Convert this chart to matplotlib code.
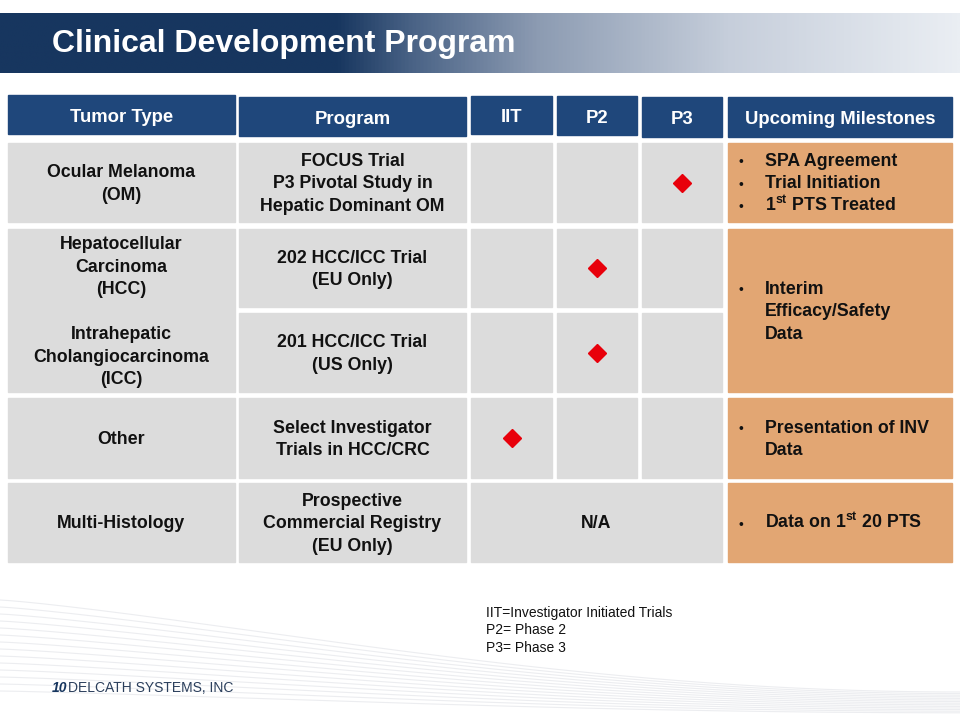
import numpy as np
import matplotlib
matplotlib.use("Agg")
import matplotlib.pyplot as plt
from matplotlib.patches import Rectangle
from matplotlib.colors import LinearSegmentedColormap

plt.rcParams["font.family"] = ["Liberation Sans", "DejaVu Sans"]
plt.rcParams["mathtext.fontset"] = "custom"
plt.rcParams["mathtext.rm"] = "Liberation Sans"
plt.rcParams["mathtext.bf"] = "Liberation Sans:bold"

# ── slide content ──
title = "Clinical Development Program"
headers = ["Tumor Type", "Program", "IIT", "P2", "P3", "Upcoming Milestones"]
phases = ["IIT", "P2", "P3"]

tumor_types = ["Ocular Melanoma\n(OM)",
               "Hepatocellular\nCarcinoma\n(HCC)\n\nIntrahepatic\nCholangiocarcinoma\n(ICC)",
               "Other",
               "Multi-Histology"]
tumor_rows = [(0, 0), (1, 2), (3, 3), (4, 4)]   # first/last program row covered

programs = ["FOCUS Trial\nP3 Pivotal Study in\nHepatic Dominant OM",
            "202 HCC/ICC Trial\n(EU Only)",
            "201 HCC/ICC Trial\n(US Only)",
            "Select Investigator\nTrials in HCC/CRC",
            "Prospective\nCommercial Registry\n(EU Only)"]
program_phase = ["P3", "P2", "P2", "IIT", None]

milestones = [["SPA Agreement", "Trial Initiation", r"1$^{\mathbf{st}}$ PTS Treated"],
              ["Interim\nEfficacy/Safety\nData"],
              ["Presentation of INV\nData"],
              [r"Data on 1$^{\mathbf{st}}$ 20 PTS"]]
milestone_rows = [(0, 0), (1, 2), (3, 3), (4, 4)]

footnote = ["IIT=Investigator Initiated Trials", "P2= Phase 2", "P3= Phase 3"]

NAVY = "#17365F"
HEAD = "#1F477B"
GRAY = "#DCDCDC"
ORANGE = "#E2A673"
INK = "#111111"
FS = 12.8
STEP = 22.5

# layout in pixels
col_x = [(8, 235), (239, 466), (471, 552), (557, 637), (642, 722), (728, 952)]
head_y = [(95, 134), (97, 136), (96, 134), (96, 135), (97, 137), (97, 137)]
row_y = [(143, 222), (229, 307), (313, 392), (398, 478), (483, 562)]

fig = plt.figure(figsize=(9.6, 7.2), dpi=100)
ax = fig.add_axes([0, 0, 1, 1])
ax.set_xlim(0, 960)
ax.set_ylim(720, 0)
ax.axis("off")


def put_lines(x, yc, text, ha="center", bullet_x=None, **kw):
    lines = text.split("\n")
    ytop = yc - (len(lines) - 1) * STEP / 2
    for k, ln in enumerate(lines):
        yb = ytop + k * STEP + 6
        ax.text(x, yb, ln, ha=ha, va="baseline", fontsize=FS, fontweight="bold",
                color=INK, zorder=2, **kw)
        if bullet_x is not None and k == 0:
            ax.text(bullet_x, yb, "\u2022", fontsize=10, ha="center",
                    va="baseline", color=INK, zorder=2)


# faint swoosh lines in the background
t = np.linspace(0, 1, 200)
for k in range(14):
    y0 = 600 + k * 7
    y1 = 692 + k * 1.6
    ys = y0 + (y1 - y0) * np.sin(t * np.pi / 2) ** 1.2
    ax.plot(960 * t, ys, color="#ECEDF0", lw=0.8, zorder=0)

# title bar with gradient
cmap = LinearSegmentedColormap.from_list(
    "bar", [(0, NAVY), (0.35, NAVY), (0.43, "#4A6386"), (0.56, "#8C9BB2"),
            (0.76, "#C6CEDB"), (1, "#EAEEF3")])
grad = np.linspace(0, 1, 512).reshape(1, -1)
ax.imshow(grad, cmap=cmap, aspect="auto", extent=[0, 960, 73, 13], zorder=1)
ax.text(52, 44, title, color="white", fontsize=23, fontweight="bold",
        va="center", ha="left", zorder=2)

# header row
for (x0, x1), (y0, y1), h in zip(col_x, head_y, headers):
    ax.add_patch(Rectangle((x0, y0), x1 - x0, y1 - y0, color=HEAD, zorder=1))
    ax.text((x0 + x1) / 2, (y0 + y1) / 2 + 7.5, h, color="white", fontsize=13.3,
            fontweight="bold", ha="center", va="baseline", zorder=2)

# tumor type column
for label, (r0, r1) in zip(tumor_types, tumor_rows):
    x0, x1 = col_x[0]
    y0, y1 = row_y[r0][0], row_y[r1][1]
    ax.add_patch(Rectangle((x0, y0), x1 - x0, y1 - y0, color=GRAY, zorder=1))
    put_lines((x0 + x1) / 2, (y0 + y1) / 2, label)

# program column + phase cells
for i, (label, ph) in enumerate(zip(programs, program_phase)):
    y0, y1 = row_y[i]
    x0, x1 = col_x[1]
    ax.add_patch(Rectangle((x0, y0), x1 - x0, y1 - y0, color=GRAY, zorder=1))
    put_lines((x0 + x1) / 2, (y0 + y1) / 2, label)
    if ph is None:
        x0, x1 = col_x[2][0], col_x[4][1]
        ax.add_patch(Rectangle((x0, y0), x1 - x0, y1 - y0, color=GRAY, zorder=1))
        put_lines((x0 + x1) / 2, (y0 + y1) / 2, "N/A")
        continue
    for j, name in enumerate(phases):
        x0, x1 = col_x[2 + j]
        ax.add_patch(Rectangle((x0, y0), x1 - x0, y1 - y0, color=GRAY, zorder=1))
        if name == ph:
            ax.plot((x0 + x1) / 2, (y0 + y1) / 2, marker="D", ms=9,
                    color="#E8000B", mec="#E8000B", zorder=3)

# milestones column
for items, (r0, r1) in zip(milestones, milestone_rows):
    x0, x1 = col_x[5]
    y0, y1 = row_y[r0][0], row_y[r1][1]
    ax.add_patch(Rectangle((x0, y0), x1 - x0, y1 - y0, color=ORANGE, zorder=1))
    n_lines = sum(it.count("\n") + 1 for it in items)
    ytop = (y0 + y1) / 2 - (n_lines - 1) * STEP / 2
    n = 0
    for it in items:
        k = it.count("\n") + 1
        put_lines(765, ytop + (n + (k - 1) / 2) * STEP, it, ha="left", bullet_x=741)
        n += k

# footnote
for k, line in enumerate(footnote):
    ax.text(486, 613 + k * 17.5, line, fontsize=10, ha="left", va="center",
            color=INK, family=["Liberation Sans Narrow", "Liberation Sans"])

# footer
ax.text(52, 688, "10", fontsize=10, fontweight="bold", style="italic",
        color=NAVY, ha="left", va="center")
ax.text(68, 688, "DELCATH SYSTEMS, INC", fontsize=10, color="#2B3F5C",
        ha="left", va="center", family=["Liberation Sans Narrow", "Liberation Sans"])

fig.savefig("out.png", dpi=100)
